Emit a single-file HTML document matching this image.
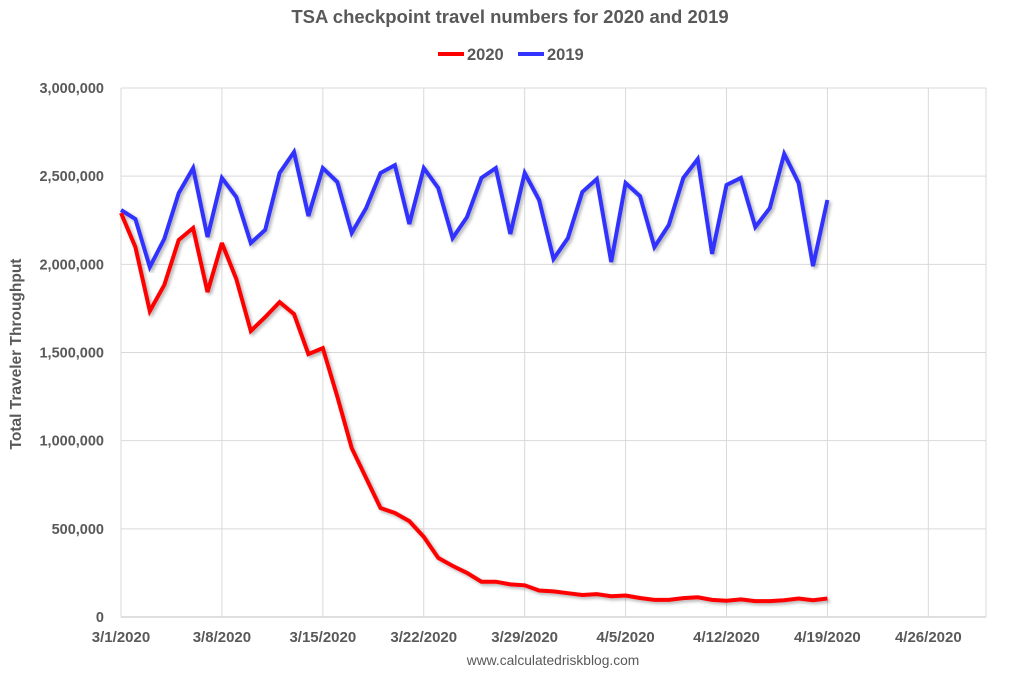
<!DOCTYPE html>
<html><head><meta charset="utf-8"><style>
html,body{margin:0;padding:0;background:#fff;}
svg text{font-family:"Liberation Sans",Arial,sans-serif;font-weight:bold;fill:#595959;}
</style></head><body>
<svg id="chart" width="1020" height="677" xmlns="http://www.w3.org/2000/svg">
<defs><filter id="sh" x="-5%" y="-5%" width="110%" height="110%"><feDropShadow dx="2" dy="2" stdDeviation="1.5" flood-color="#000" flood-opacity="0.3"/></filter></defs>
<text x="510" y="23" text-anchor="middle" font-size="18.5">TSA checkpoint travel numbers for 2020 and 2019</text>
<g>
<g><line x1="438" y1="54" x2="464" y2="54" stroke="#ff0000" stroke-width="4"/><text x="467" y="60" font-size="16.5">2020</text></g>
<g><line x1="518" y1="54" x2="544" y2="54" stroke="#3333ff" stroke-width="4"/><text x="547" y="60" font-size="16.5">2019</text></g>
</g>
<g id="grid"></g>
<g id="yticks"></g>
<g id="xticks"></g>
<text transform="translate(21,354) rotate(-90)" text-anchor="middle" font-size="15.5">Total Traveler Throughput</text>
<g id="series"></g>
<text x="553" y="665" text-anchor="middle" font-size="13.8" style="font-weight:normal">www.calculatedriskblog.com</text>
</svg>
<script>
const xTickLabels=["3/1/2020","3/8/2020","3/15/2020","3/22/2020","3/29/2020","4/5/2020","4/12/2020","4/19/2020","4/26/2020"];
const yTickValues=[0,500000,1000000,1500000,2000000,2500000,3000000];
const values2020=[2291,2098,1735,1883,2138,2206,1843,2121,1917,1622,1701,1786,1718,1491,1525,1250,958,788,618,590,544,454,335,290,250,200,200,185,180,150,145,135,125,130,118,122,108,97,97,107,112,97,92,100,90,90,95,105,95,105];
const values2019=[2308,2257,1985,2144,2404,2546,2155,2490,2382,2121,2195,2518,2637,2274,2546,2467,2178,2319,2518,2563,2229,2546,2433,2149,2268,2490,2546,2172,2518,2365,2030,2149,2410,2484,2013,2461,2387,2098,2223,2490,2597,2059,2450,2490,2212,2319,2626,2461,1990,2365];
const NS="http://www.w3.org/2000/svg";
const L=121,R=986,T=88,B=617,dayW=(R-L)/60;
const xs=d=>L+d*dayW;
const ys=v=>B-(v/3000000)*(B-T);
function mk(tag,attrs,parent){const e=document.createElementNS(NS,tag);for(const k in attrs)e.setAttribute(k,attrs[k]);parent.appendChild(e);return e;}
const grid=document.getElementById('grid'),yt=document.getElementById('yticks'),xt=document.getElementById('xticks'),ser=document.getElementById('series');
yTickValues.forEach(v=>{
 const ln=mk('line',{x1:L,x2:R,y1:ys(v),y2:ys(v),stroke:v===0?'#bfbfbf':'#d9d9d9','stroke-width':1},grid);
 
 
 const t=mk('text',{x:104,y:ys(v)+5,'text-anchor':'end','font-size':14.5},yt);
 t.textContent=v.toLocaleString('en-US');
 
 
});
xTickLabels.forEach((s,i)=>{
 const x=xs(i*7);
 const ln=mk('line',{x1:x,x2:x,y1:T,y2:B,stroke:'#d9d9d9','stroke-width':1},grid);
 
 
 const t=mk('text',{x:x,y:642,'text-anchor':'middle','font-size':15},xt);
 t.textContent=s;
 
 
});
const rl=mk('line',{x1:R,x2:R,y1:T,y2:B,stroke:'#d9d9d9','stroke-width':1},grid);


function draw(vals,color,name){
 const pts=vals.map((v,i)=>xs(i).toFixed(1)+','+ys(v*1000).toFixed(1)).join(' ');
 const p=mk('polyline',{points:pts,fill:'none',stroke:color,'stroke-width':4,'stroke-linejoin':'miter','stroke-miterlimit':3,filter:'url(#sh)'},ser);
 
 
}
draw(values2019,'#3333ff','line-2019');
draw(values2020,'#ff0000','line-2020');
</script>
</body></html>
